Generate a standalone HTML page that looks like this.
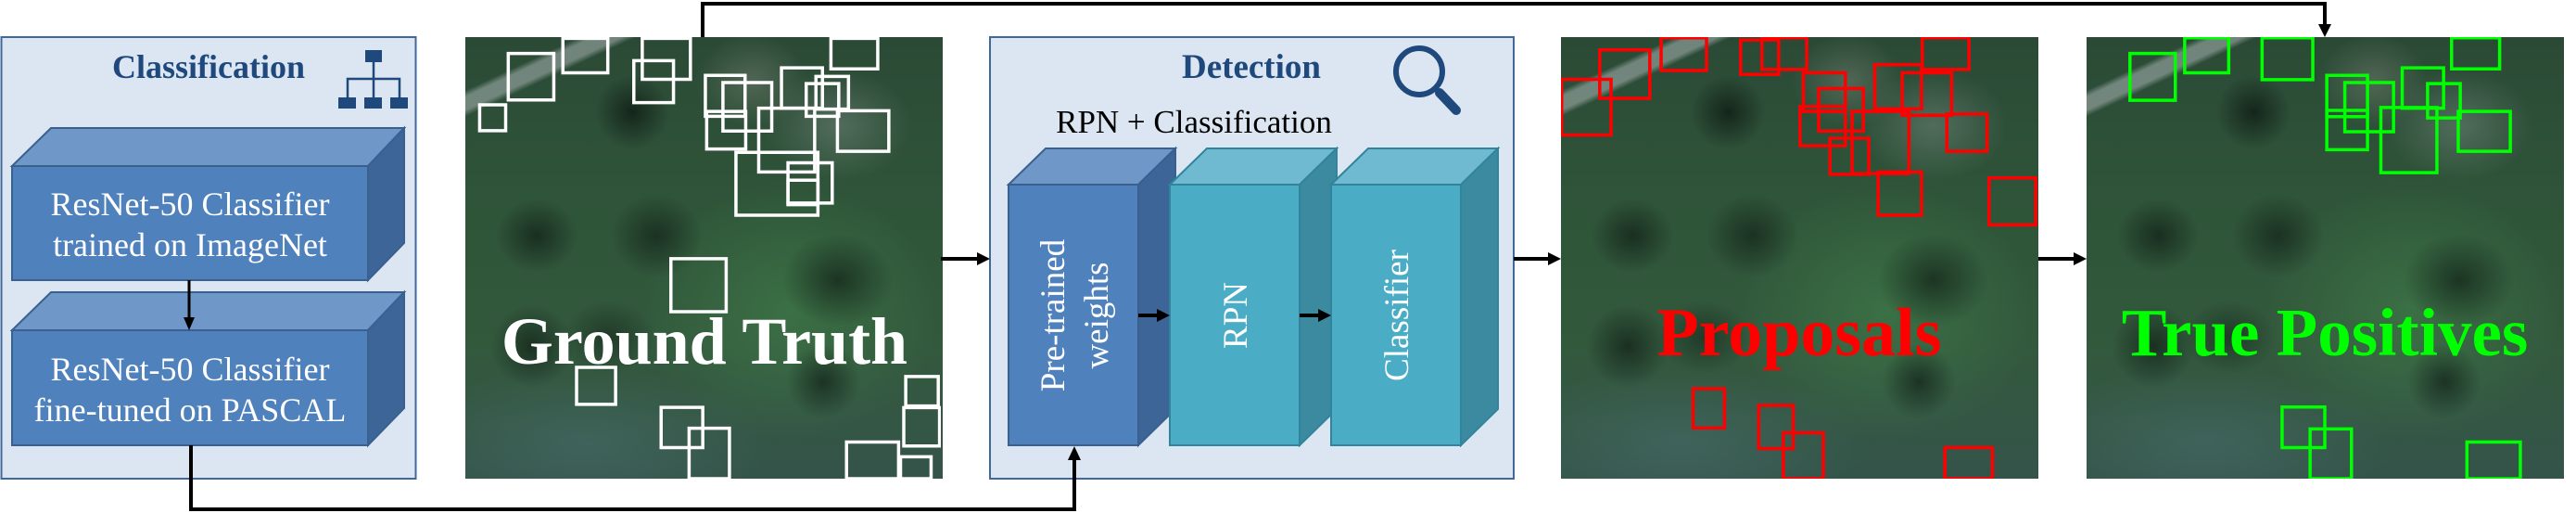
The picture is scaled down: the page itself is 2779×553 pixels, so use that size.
<!DOCTYPE html>
<html><head><meta charset="utf-8"><style>
html,body{margin:0;padding:0;background:#fff;}
body{width:2779px;height:553px;position:relative;overflow:hidden;font-family:"Liberation Serif",serif;}
.sat{position:absolute;top:40px;width:515px;height:476px;overflow:hidden;
background:
linear-gradient(155deg, transparent 0%, transparent 8%, rgba(170,180,180,.55) 9%, rgba(170,180,180,.55) 11%, transparent 12%),
radial-gradient(ellipse 60px 50px at 60% 10%, rgba(150,150,140,.35), transparent),
radial-gradient(ellipse 80px 60px at 78% 20%, rgba(150,160,160,.35), transparent),
radial-gradient(ellipse 40px 40px at 35% 17%, rgba(10,20,15,.7), transparent),
radial-gradient(ellipse 45px 40px at 15% 45%, rgba(10,20,15,.6), transparent),
radial-gradient(ellipse 50px 45px at 40% 45%, rgba(10,20,15,.55), transparent),
radial-gradient(ellipse 45px 45px at 14% 70%, rgba(10,20,15,.6), transparent),
radial-gradient(ellipse 60px 50px at 78% 55%, rgba(10,20,15,.6), transparent),
radial-gradient(ellipse 40px 40px at 75% 78%, rgba(10,20,15,.6), transparent),
radial-gradient(ellipse 50px 40px at 30% 68%, rgba(10,20,15,.45), transparent),
radial-gradient(ellipse 160px 140px at 68% 62%, rgba(70,140,80,.45), transparent),
radial-gradient(ellipse 200px 80px at 25% 92%, rgba(80,120,120,.4), transparent),
linear-gradient(180deg,#2b4a36 0%,#2f5539 40%,#33593d 70%,#34544a 100%);}
</style></head><body>
<div class="sat" style="left:502px"></div>
<div class="sat" style="left:1684px"></div>
<div class="sat" style="left:2251px"></div>
<svg width="2779" height="553" style="position:absolute;left:0;top:0" xmlns="http://www.w3.org/2000/svg">
<!-- Classification panel -->
<rect x="1.5" y="40" width="447" height="476" fill="#dce6f2" stroke="#41689b" stroke-width="2"/>
<text x="225" y="84" text-anchor="middle" font-family="Liberation Serif" font-weight="bold" font-size="36" fill="#1f497d">Classification</text>
<g fill="#1f497d">
<rect x="394" y="54" width="18" height="13"/>
<rect x="365" y="105" width="19" height="12"/><rect x="393" y="105" width="19" height="12"/><rect x="421" y="105" width="19" height="12"/>
</g>
<g stroke="#1f497d" stroke-width="2.5" fill="none">
<path d="M403 67V85M375 105V85H431V105M403 85V105"/>
</g>
<!-- box1 -->
<g stroke="#3a6090" stroke-width="2">
<polygon points="13,179 55,138 436,138 397,179" fill="#6f98c8"/>
<polygon points="397,179 436,138 436,262 397,302" fill="#3d6598"/>
<rect x="13" y="179" width="384" height="123" fill="#4f81bd"/>
<polygon points="13,356 55,315 436,315 397,356" fill="#6f98c8"/>
<polygon points="397,356 436,315 436,440 397,480" fill="#3d6598"/>
<rect x="13" y="356" width="384" height="124" fill="#4f81bd"/>
</g>
<g font-family="Liberation Serif" font-size="36" fill="#fff" text-anchor="middle">
<text x="205" y="232">ResNet-50 Classifier</text>
<text x="205" y="276">trained on ImageNet</text>
<text x="205" y="410">ResNet-50 Classifier</text>
<text x="205" y="454">fine-tuned on PASCAL</text>
</g>
<line x1="204" y1="302" x2="204" y2="344" stroke="#000" stroke-width="3"/>
<polygon points="198,342 210,342 204,356" fill="#000"/>
<!-- Detection panel -->
<rect x="1068" y="40" width="565" height="476" fill="#dce6f2" stroke="#41689b" stroke-width="2"/>
<text x="1350" y="84" text-anchor="middle" font-family="Liberation Serif" font-weight="bold" font-size="37" fill="#1f497d">Detection</text>
<circle cx="1531" cy="77" r="25" fill="none" stroke="#1f497d" stroke-width="6"/>
<line x1="1553" y1="100" x2="1571" y2="119" stroke="#1f497d" stroke-width="10" stroke-linecap="round"/>
<text x="1288" y="143" text-anchor="middle" font-family="Liberation Serif" font-size="35" fill="#000">RPN + Classification</text>
<g stroke-width="2">
<g stroke="#3a6090">
<polygon points="1088,199 1128,160 1268,160 1228,199" fill="#6f98c8"/>
<polygon points="1228,199 1268,160 1268,441 1228,480" fill="#3d6598"/>
<rect x="1088" y="199" width="140" height="281" fill="#4f81bd"/>
</g>
<g stroke="#31849b">
<polygon points="1262,199 1302,160 1442,160 1402,199" fill="#6fbad0"/>
<polygon points="1402,199 1442,160 1442,441 1402,480" fill="#3b8a9f"/>
<rect x="1262" y="199" width="140" height="281" fill="#4bacc6"/>
<polygon points="1436,199 1476,160 1616,160 1576,199" fill="#6fbad0"/>
<polygon points="1576,199 1616,160 1616,441 1576,480" fill="#3b8a9f"/>
<rect x="1436" y="199" width="140" height="281" fill="#4bacc6"/>
</g>
</g>
<g font-family="Liberation Serif" font-size="37" fill="#fff" text-anchor="middle">
<text transform="translate(1148,340) rotate(-90)">Pre-trained</text>
<text transform="translate(1195,340) rotate(-90)">weights</text>
<text transform="translate(1345,340) rotate(-90)">RPN</text>
<text transform="translate(1519,340) rotate(-90)">Classifier</text>
</g>
<g stroke="#000" stroke-width="4">
<line x1="1228" y1="340" x2="1250" y2="340"/>
<line x1="1402" y1="340" x2="1424" y2="340"/>
</g>
<polygon points="1248,333 1248,347 1262,340" fill="#000"/>
<polygon points="1422,333 1422,347 1436,340" fill="#000"/>
<!-- main arrows -->
<g stroke="#000" stroke-width="4" fill="none">
<line x1="1015" y1="279" x2="1056" y2="279"/>
<line x1="1633" y1="279" x2="1672" y2="279"/>
<line x1="2199" y1="279" x2="2239" y2="279"/>
<path d="M758 40V4H2508V28"/>
<path d="M206 480V549H1159V494"/>
</g>
<polygon points="1054,272 1054,286 1068,279" fill="#000"/>
<polygon points="1670,272 1670,286 1684,279" fill="#000"/>
<polygon points="2237,272 2237,286 2251,279" fill="#000"/>
<polygon points="2501,26 2515,26 2508,40" fill="#000"/>
<polygon points="1152,496 1166,496 1159,481" fill="#000"/>
<!-- GT boxes -->
<svg x="502" y="40" width="513" height="476" viewBox="716 113 731 1349" preserveAspectRatio="none" overflow="hidden">
<g fill="none" stroke="#fff" stroke-width="3.5" vector-effect="non-scaling-stroke">
<rect vector-effect="non-scaling-stroke" x="782" y="163" width="70" height="142"/>
<rect vector-effect="non-scaling-stroke" x="866" y="117" width="69" height="105"/>
<rect vector-effect="non-scaling-stroke" x="988" y="117" width="74" height="125"/>
<rect vector-effect="non-scaling-stroke" x="975" y="185" width="61" height="128"/>
<rect vector-effect="non-scaling-stroke" x="738" y="320" width="40" height="79"/>
<rect vector-effect="non-scaling-stroke" x="1085" y="230" width="61" height="125"/>
<rect vector-effect="non-scaling-stroke" x="1112" y="252" width="75" height="148"/>
<rect vector-effect="non-scaling-stroke" x="1087" y="340" width="60" height="115"/>
<rect vector-effect="non-scaling-stroke" x="1167" y="330" width="86" height="195"/>
<rect vector-effect="non-scaling-stroke" x="1202" y="207" width="63" height="123"/>
<rect vector-effect="non-scaling-stroke" x="1240" y="255" width="50" height="100"/>
<rect vector-effect="non-scaling-stroke" x="1255" y="233" width="50" height="100"/>
<rect vector-effect="non-scaling-stroke" x="1278" y="117" width="72" height="93"/>
<rect vector-effect="non-scaling-stroke" x="1288" y="338" width="79" height="124"/>
<rect vector-effect="non-scaling-stroke" x="1132" y="465" width="126" height="192"/>
<rect vector-effect="non-scaling-stroke" x="1212" y="497" width="68" height="123"/>
<rect vector-effect="non-scaling-stroke" x="1212" y="550" width="46" height="75"/>
<rect vector-effect="non-scaling-stroke" x="1032" y="790" width="85" height="162"/>
<rect vector-effect="non-scaling-stroke" x="887" y="1122" width="60" height="113"/>
<rect vector-effect="non-scaling-stroke" x="1017" y="1244" width="64" height="123"/>
<rect vector-effect="non-scaling-stroke" x="1060" y="1308" width="62" height="154"/>
<rect vector-effect="non-scaling-stroke" x="1393" y="1150" width="50" height="90"/>
<rect vector-effect="non-scaling-stroke" x="1390" y="1245" width="55" height="117"/>
<rect vector-effect="non-scaling-stroke" x="1302" y="1350" width="80" height="112"/>
<rect vector-effect="non-scaling-stroke" x="1385" y="1395" width="47" height="67"/>
</g>
</svg>
<!-- Proposal boxes -->
<svg x="1684" y="40" width="515" height="476" viewBox="47 113 715 1349" preserveAspectRatio="none" overflow="hidden">
<g fill="none" stroke="#ff0000" stroke-width="3.5">
<rect vector-effect="non-scaling-stroke" x="105" y="152" width="75" height="148"/>
<rect vector-effect="non-scaling-stroke" x="48" y="242" width="74" height="170"/>
<rect vector-effect="non-scaling-stroke" x="197" y="115" width="68" height="100"/>
<rect vector-effect="non-scaling-stroke" x="316" y="122" width="57" height="105"/>
<rect vector-effect="non-scaling-stroke" x="348" y="115" width="67" height="97"/>
<rect vector-effect="non-scaling-stroke" x="588" y="115" width="70" height="97"/>
<rect vector-effect="non-scaling-stroke" x="410" y="222" width="63" height="118"/>
<rect vector-effect="non-scaling-stroke" x="433" y="270" width="67" height="130"/>
<rect vector-effect="non-scaling-stroke" x="405" y="325" width="68" height="120"/>
<rect vector-effect="non-scaling-stroke" x="517" y="197" width="70" height="135"/>
<rect vector-effect="non-scaling-stroke" x="558" y="222" width="74" height="130"/>
<rect vector-effect="non-scaling-stroke" x="483" y="340" width="85" height="190"/>
<rect vector-effect="non-scaling-stroke" x="450" y="422" width="58" height="110"/>
<rect vector-effect="non-scaling-stroke" x="625" y="348" width="60" height="114"/>
<rect vector-effect="non-scaling-stroke" x="522" y="525" width="65" height="132"/>
<rect vector-effect="non-scaling-stroke" x="688" y="543" width="70" height="144"/>
<rect vector-effect="non-scaling-stroke" x="245" y="1187" width="47" height="120"/>
<rect vector-effect="non-scaling-stroke" x="343" y="1238" width="52" height="132"/>
<rect vector-effect="non-scaling-stroke" x="380" y="1322" width="60" height="140"/>
<rect vector-effect="non-scaling-stroke" x="622" y="1367" width="71" height="95"/>
</g>
</svg>
<!-- TP boxes -->
<svg x="2251" y="40" width="514" height="476" viewBox="835 113 714 1349" preserveAspectRatio="none" overflow="hidden">
<g fill="none" stroke="#00ff00" stroke-width="3.5">
<rect vector-effect="non-scaling-stroke" x="900" y="163" width="68" height="143"/>
<rect vector-effect="non-scaling-stroke" x="982" y="115" width="66" height="107"/>
<rect vector-effect="non-scaling-stroke" x="1098" y="115" width="76" height="128"/>
<rect vector-effect="non-scaling-stroke" x="1195" y="230" width="61" height="126"/>
<rect vector-effect="non-scaling-stroke" x="1222" y="252" width="73" height="150"/>
<rect vector-effect="non-scaling-stroke" x="1195" y="337" width="61" height="120"/>
<rect vector-effect="non-scaling-stroke" x="1276" y="328" width="84" height="199"/>
<rect vector-effect="non-scaling-stroke" x="1308" y="207" width="62" height="123"/>
<rect vector-effect="non-scaling-stroke" x="1346" y="255" width="49" height="105"/>
<rect vector-effect="non-scaling-stroke" x="1382" y="115" width="72" height="95"/>
<rect vector-effect="non-scaling-stroke" x="1392" y="340" width="78" height="122"/>
<rect vector-effect="non-scaling-stroke" x="1128" y="1243" width="64" height="124"/>
<rect vector-effect="non-scaling-stroke" x="1170" y="1310" width="62" height="152"/>
<rect vector-effect="non-scaling-stroke" x="1405" y="1350" width="80" height="112"/>
</g>
</svg>
<g font-family="Liberation Serif" font-weight="bold" text-anchor="middle">
<text x="760" y="392" font-size="72" fill="#fff">Ground Truth</text>
<text x="1941" y="383" font-size="74" fill="#ff0000">Proposals</text>
<text x="2508" y="383" font-size="73" fill="#00ff00">True Positives</text>
</g>
</svg>
</body></html>
